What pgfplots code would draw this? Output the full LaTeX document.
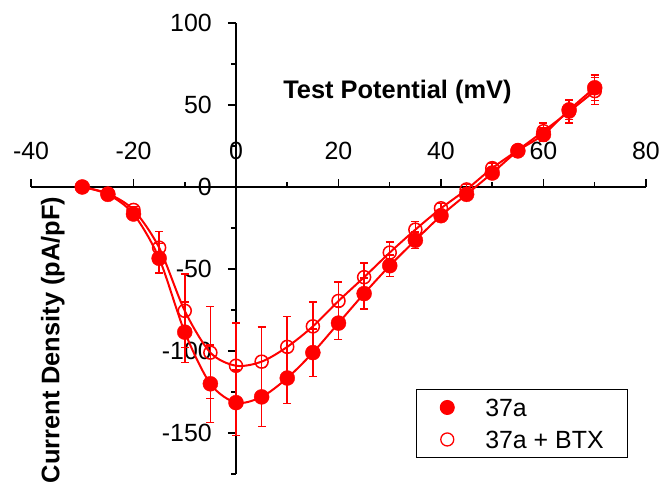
\documentclass[border=0pt]{standalone}
\usepackage{fontspec}
\setmainfont{Liberation Sans}
\usepackage{pgfplots}
\usepackage{pgfplotstable}
\pgfplotsset{compat=1.18}

% 37a alone: test potential (mV), current density (pA/pF), error
\pgfplotstableread{
x y e
-30 0 1
-25 -4.5 1.5
-20 -16.5 2
-15 -43.5 9
-10 -88.5 18.5
-5 -120 23.5
0 -131.5 20
5 -128 18
10 -116.5 15.5
15 -101 14.5
20 -83 10
25 -65 9.5
30 -48 6.5
35 -32.5 5
40 -17.5 3.5
45 -4.5 3
50 8.5 3
55 22 3
60 32 4
65 47 6
70 60.5 7.8
}\ctrl

% 37a + BTX
\pgfplotstableread{
x y e
-30 0 1
-25 -4 1.5
-20 -14 2
-15 -37 10
-10 -75.5 22.5
-5 -101 28
0 -109 26
5 -106.5 21
10 -97.5 18.5
15 -85 15
20 -69.5 11.5
25 -55 8.5
30 -40 6.5
35 -26 5
40 -13 3
45 -1.5 3
50 11.5 3
55 22.5 2.5
60 34 5
65 46 7
70 58.5 8.2
}\btx

\begin{document}
\begin{tikzpicture}
\begin{axis}[
  scale only axis, width=615bp, height=451bp,
  xmin=-40, xmax=80, ymin=-175, ymax=100,
  axis lines=middle,
  hide obscured x ticks=false, hide obscured y ticks=false,
  axis line style={-, line width=2bp, black},
  xtick={-40,-20,...,80},
  ytick={-150,-100,...,100},
  minor xtick={-30,-10,...,70},
  minor ytick={-175,-125,...,75},
  major tick length=8bp, minor tick length=5bp,
  tick style={black, line width=1.5bp},
  xtick align=inside, ytick align=outside,
  tick label style={font=\fontsize{25}{30}\selectfont, inner sep=0pt,
    /pgf/number format/assume math mode=true},
  xticklabel style={anchor=base, yshift=27.7bp},
  yticklabel style={anchor=east, xshift=-16bp},
  clip=false,
  legend style={at={(0.971,0.0355)}, anchor=south east, draw=black,
    line width=1bp, fill=white, inner xsep=24bp, inner ysep=9bp,
    row sep=14bp, column sep=31bp,
    nodes={inner sep=0pt, text height=18bp, text depth=0bp},
    font=\fontsize{25}{30}\selectfont},
  legend cell align=left,
  legend image code/.code={\draw[#1] plot coordinates {(0bp,0bp)};},
]
\addlegendimage{only marks, mark=*, mark size=7bp, red, mark options={fill=red, draw=red}}
\addlegendentry{37a}
\addlegendimage{only marks, mark=o, mark size=6.5bp, red, mark options={line width=1.3bp}}
\addlegendentry{37a + BTX}

% fitted curves
\addplot[red, line width=2bp, smooth, forget plot] table[x=x, y=y] {\ctrl};
\addplot[red, line width=2bp, smooth, forget plot] table[x=x, y=y] {\btx};

% data with error bars
\addplot[red, only marks, mark=*, mark size=7.5bp, mark options={fill=red, draw=red},
  forget plot,
  error bars/.cd, y dir=both, y explicit,
  error bar style={line width=1.5bp, red},
  error mark options={rotate=90, mark size=4bp, line width=1.5bp, red}]
  table[x=x, y=y, y error=e] {\ctrl};
\addplot[red, only marks, mark=o, mark size=6.5bp, mark options={line width=1.5bp, draw=red},
  forget plot,
  error bars/.cd, y dir=both, y explicit,
  error bar style={line width=1.5bp, red},
  error mark options={rotate=90, mark size=4bp, line width=1.5bp, red}]
  table[x=x, y=y, y error=e] {\btx};

\node[font=\bfseries\fontsize{25.5}{30}\selectfont, anchor=base, inner sep=0pt]
  at (axis cs:31.5,54.1) {Test Potential (mV)};
\node[font=\bfseries\fontsize{25.5}{30}\selectfont, anchor=base, inner sep=0pt, rotate=90]
  at (axis cs:-34.48,-93.3) {Current Density (pA/pF)};

\coordinate (bl) at (axis cs:-46.05,-185.37);
\coordinate (tr) at (axis cs:82.93,114.02);
\end{axis}
\pgfresetboundingbox
\path[use as bounding box] (bl) rectangle (tr);
\end{tikzpicture}
\end{document}
